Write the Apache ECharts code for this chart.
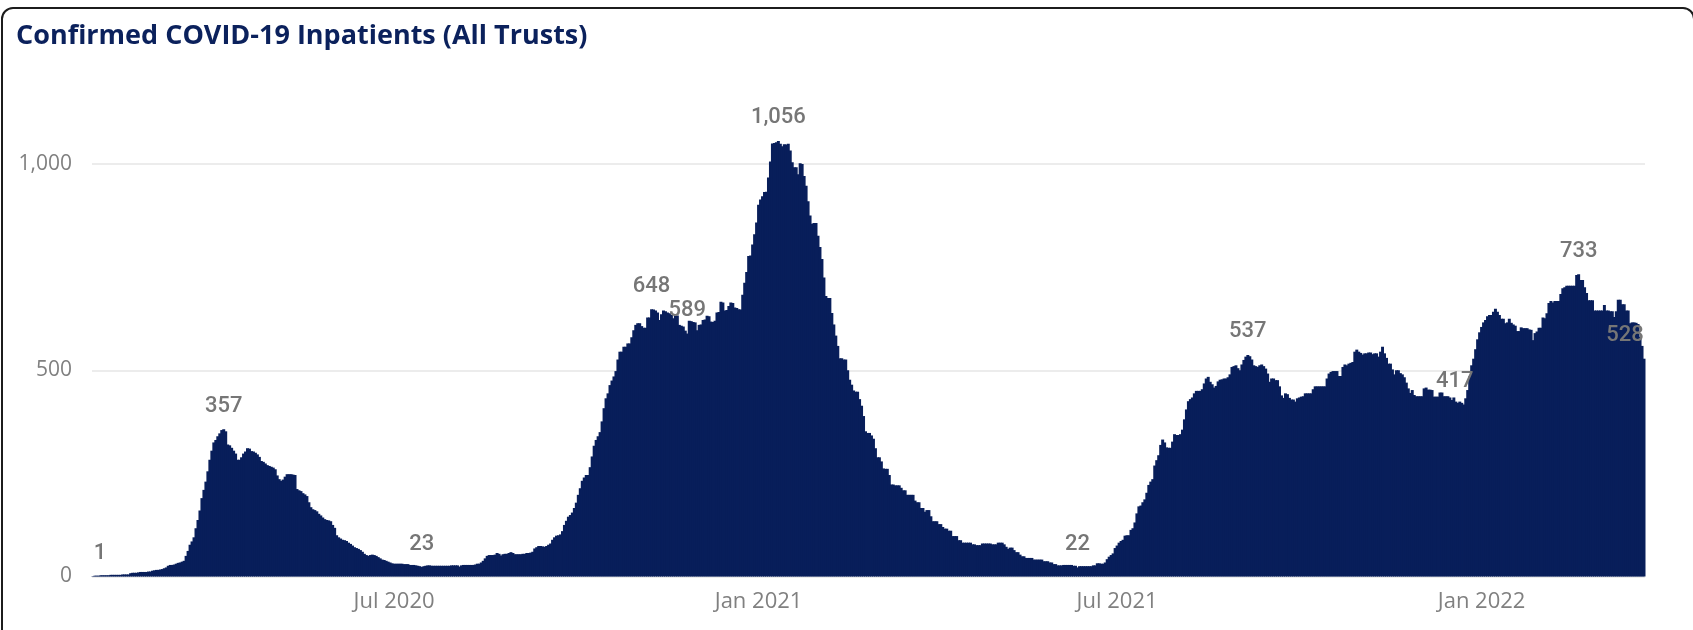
<!DOCTYPE html>
<html>
<head>
<meta charset="utf-8">
<script src="https://cdn.jsdelivr.net/npm/echarts@6/dist/echarts.min.js"></script>
<style>
html,body{margin:0;padding:0;background:#fff;overflow:hidden;width:1693px;height:630px;}
#frame{position:absolute;left:1px;top:7px;width:1694px;height:720px;border:2px solid #1c1c1c;border-radius:12px;box-sizing:border-box;}
#chart{position:absolute;left:0;top:0;width:1693px;height:630px;}
</style>
</head>
<body>
<div id="frame"></div>
<div id="chart"></div>
<script>
// ---- data (daily confirmed COVID-19 inpatients) ----
const startDate = '2020-01-31';

// part 1: first 335 days
const inpatientsPart1 = [
1,2,2,2,3,3,3,3,3,4,4,4,4,4,4,5,5,5,5,
8,9,9,9,
10,11,11,11,11,12,12,
14,15,16,16,17,18,
20,22,
26,28,28,29,
31,33,
34,36,38,
50,62,77,85,95,117,137,160,190,210,230,255,283,305,325,331,340,347,355,357,
352,320,318,312,305,298,283,283,289,298,303,311,310,304,303,300,296,290,280,278,274,270,268,266,264,260,245,236,232,235,242,248,248,248,247,246,
212,209,207,202,199,195,180,168,163,161,158,152,148,143,139,137,136,134,125,118,100,95,92,89,88,86,82,79,75,71,69,67,64,60,55,52,50,52,53,52,50,47,44,41,40,38,36,34,32,31,
31,31,31,31,30,30,30,28,28,28,27,26,25,
23,
25,26,27,27,26,26,26,26,26,26,26,26,26,26,27,27,27,27,
24,
27,28,28,28,28,28,28,29,31,31,
34,38,44,50,52,52,52,53,57,55,51,54,55,55,57,59,57,54,54,54,54,55,55,57,57,58,60,
68,71,74,74,73,72,74,77,80,89,95,99,100,102,110,125,135,145,149,155,166,179,
198,214,232,240,246,246,265,291,317,331,340,350,376,408,432,444,464,475,
485,498,526,545,545,557,557,565,565,580,597,610,614,614,607,603,603,628,628,
648,647,645,640,622,636,645,643,640,638,
634,626,632,633,610,608,606,596,589,620,
619,617,616,597,610,611,622,623,632,631,
618,617,620,640,641,666,664,645,646,656,
664,663,652,651,648,647,683,712,738,777,
778,805,830
];

// part 2: next 365 days
const inpatientsPart2 = [
858,901,914,922,932,933,967,1006,1050,1051,1053,1056,1049,1043,1048,1047,
1049,1033,1004,992,992,975,1002,1000,971,947,
910,875,855,857,857,826,799,770,725,680,
675,675,639,611,584,559,529,529,526,526,
500,477,465,451,448,448,430,414,389,352,
348,348,342,334,311,289,289,279,262,261,
261,246,223,223,221,221,221,215,209,209,
198,198,198,198,184,180,180,166,166,157,
161,161,146,134,134,134,127,127,120,116,
116,111,111,98,98,98,88,88,82,82,
82,82,82,78,78,76,76,76,80,80,
80,80,80,78,78,78,82,82,82,78,
72,67,70,70,64,59,59,53,49,49,
45,45,45,45,41,41,41,41,41,37,
37,37,
34,34,30,30,27,27,27,28,28,28,
28,28,26,26,22,25,25,25,25,25,
25,25,27,27,32,32,31,31,34,42,
48,52,56,69,75,82,86,89,99,100,
100,113,117,131,153,170,172,180,187,203,
222,230,236,269,282,294,319,332,325,313,
312,312,327,345,343,343,345,356,381,405,
425,430,434,444,450,450,450,454,468,480,
484,472,466,458,462,473,477,478,480,480,
483,490,508,510,512,505,500,514,525,533,
537,534,526,512,510,508,512,514,510,504,
492,472,480,480,476,476,461,439,433,444,
442,433,429,429,424,432,434,436,437,444,
444,444,444,454,461,461,461,461,461,461,
480,492,496,498,498,498,486,486,508,514,
512,516,518,520,545,550,545,542,
538,541,541,543,543,539,541,541,533,545,
557,541,530,516,516,502,490,500,500,493,
490,483,470,456,445,452,440,437,437,437,
437,456,458,453,453,452,436,436,436,446,
446,437,437,437,434,428,434,424,421,424,
421,417,432,452,485,512,528,551,575
];

// part 3: final 84 days
const inpatientsPart3 = [
592,605,616,622,631,634,634,642,649,642,
634,625,625,614,616,625,615,611,608,595,
595,604,602,602,602,599,598,573,590,594,
603,603,628,626,638,663,668,664,668,668,
668,685,699,701,705,705,705,705,705,731,
733,719,719,701,687,670,670,670,645,645,
645,645,645,658,645,645,643,643,629,643,
671,671,660,660,645,645,614,616,616,615,
612,581,559,528
];

// points that carry a data label in the reference
const labelledDates = ['2020-01-31','2020-04-06','2020-07-15','2020-11-08','2020-11-26',
  '2021-01-11','2021-06-11','2021-09-05','2021-12-23','2022-02-19','2022-03-24'];

// axis ticks
const xTickDates  = ['2020-07-01','2021-01-01','2021-07-01','2022-01-01'];
const xTickLabels = ['Jul 2020','Jan 2021','Jul 2021','Jan 2022'];
const yTicks = [0, 500, 1000];

// ---- build ----
const values = inpatientsPart1.concat(inpatientsPart2, inpatientsPart3);
function pad(n){ return (n < 10 ? '0' : '') + n; }
const categories = [];
{
  const d = new Date(startDate + 'T00:00:00Z');
  for (let i = 0; i < values.length; i++) {
    categories.push(d.getUTCFullYear() + '-' + pad(d.getUTCMonth() + 1) + '-' + pad(d.getUTCDate()));
    d.setUTCDate(d.getUTCDate() + 1);
  }
}
function fmt(v){ return String(v).replace(/\B(?=(\d{3})+(?!\d))/g, ','); }

const BAR = '#081e5a';
const labelOffsets = { '2020-01-31': [7, 0], '2021-12-23': [-9, 0], '2022-03-24': [-19, 0] };

const seriesData = values.map(function (v, i) {
  const date = categories[i];
  if (labelledDates.indexOf(date) >= 0) {
    return {
      value: v,
      label: {
        show: true, position: 'top', distance: 12,
        offset: labelOffsets[date] || [0, 0],
        formatter: function (p) { return fmt(p.value); },
        color: '#767676', fontSize: 22, fontWeight: 500, fontFamily: 'Roboto'
      }
    };
  }
  return v;
});

const chart = echarts.init(document.getElementById('chart'), null, { renderer: 'canvas' });
chart.setOption({
  animation: false,
  backgroundColor: 'transparent',
  title: {
    text: 'Confirmed COVID-19 Inpatients (All Trusts)',
    left: 11, top: 18,
    textStyle: { color: '#0b215c', fontSize: 27, fontWeight: 'bold', fontFamily: 'Open Sans' }
  },
  grid: { left: 92, right: 48, top: 164, bottom: 53.5, containLabel: false },
  xAxis: {
    type: 'category',
    data: categories,
    boundaryGap: true,
    axisLine: { show: false },
    axisTick: { show: false },
    splitLine: { show: false },
    axisLabel: {
      interval: function (idx, val) { return xTickDates.indexOf(val) >= 0; },
      formatter: function (val) { const k = xTickDates.indexOf(val); return k >= 0 ? xTickLabels[k] : ''; },
      color: '#808080', fontSize: 22, fontFamily: 'Open Sans', margin: 14
    }
  },
  yAxis: {
    type: 'value',
    min: yTicks[0], max: yTicks[yTicks.length - 1], interval: yTicks[1] - yTicks[0],
    axisLine: { show: false },
    axisTick: { show: false },
    splitLine: { lineStyle: { color: '#e6e6e6', width: 1.5 } },
    axisLabel: { formatter: function (v) { return fmt(v); }, color: '#808080', fontSize: 21, fontFamily: 'Open Sans', margin: 20 }
  },
  series: [{
    type: 'bar',
    data: seriesData,
    barWidth: '150%',
    barGap: '-100%',
    clip: false,
    itemStyle: { color: BAR },
    emphasis: { disabled: true }
  }]
});
</script>
</body>
</html>
